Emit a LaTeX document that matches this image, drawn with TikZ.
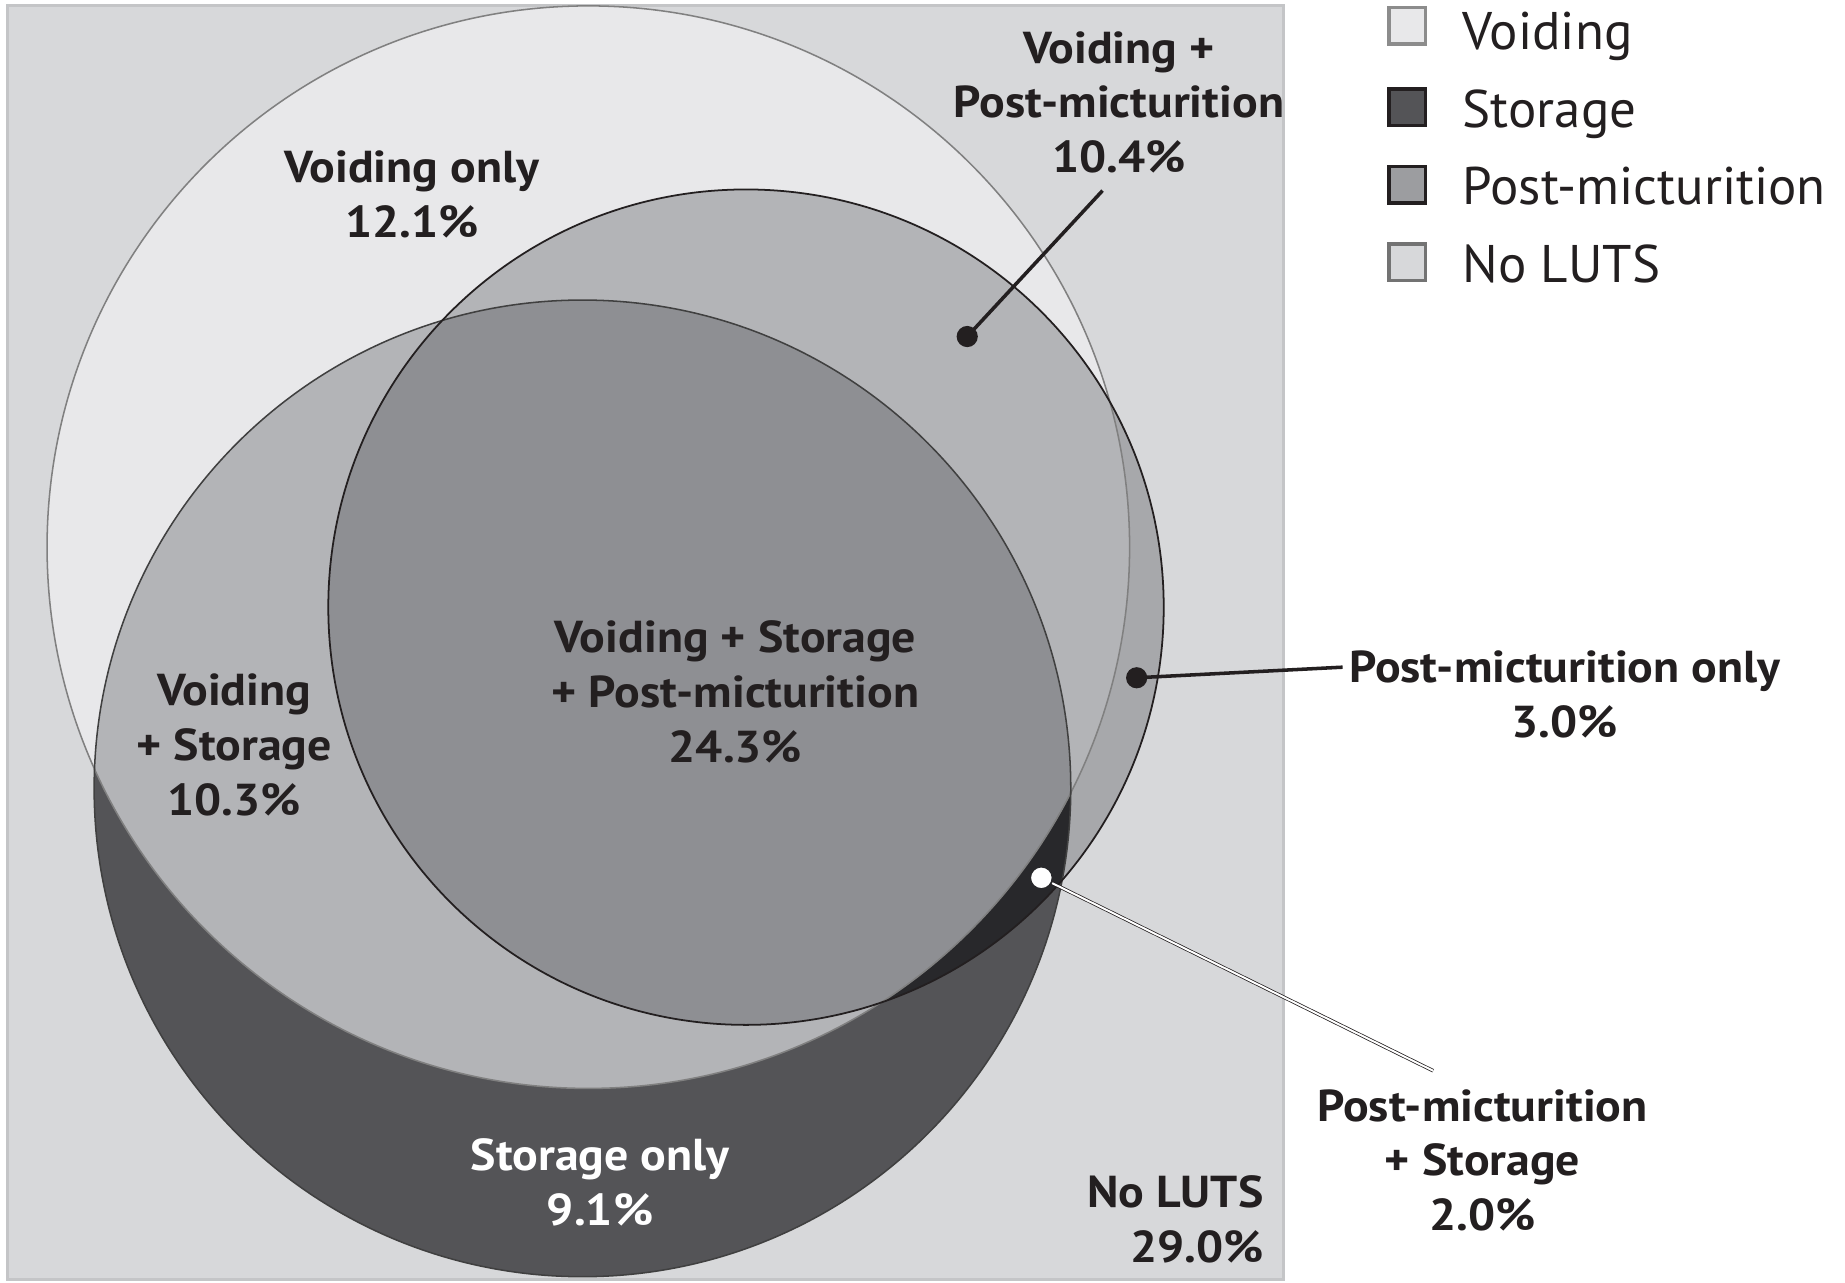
\documentclass[tikz,border=0pt]{standalone}
\usepackage{fontspec}
\setmainfont{PT Sans}[BoldFeatures={FakeStretch=1.07}]
\definecolor{bgfill}{HTML}{D7D8DA}
\definecolor{bgedge}{HTML}{C4C5C7}
\definecolor{voidfill}{HTML}{E8E8EA}
\definecolor{storfill}{HTML}{545457}
\definecolor{postfill}{HTML}{A7A8AB}
\definecolor{vsfill}{HTML}{B3B4B7}
\definecolor{vspfill}{HTML}{8E8F93}
\definecolor{spfill}{HTML}{28282B}
\definecolor{legpost}{HTML}{9C9DA0}
\definecolor{ink}{HTML}{231F20}
\begin{document}
\begin{tikzpicture}[x=1pt,y=-1pt,
  lbl/.style={font=\bfseries\fontsize{38}{46.5}\selectfont, align=center, text=ink, inner sep=0pt},
  wlbl/.style={lbl, text=white},
  legtext/.style={font=\fontsize{45}{50}\selectfont, text=ink, inner sep=0pt, anchor=base west},
  legbox/.style={minimum size=31pt, inner sep=0pt, line width=3pt},
  blackdot/.style={circle, fill=ink, minimum size=18pt, inner sep=0pt},
  whitedot/.style={circle, fill=white, draw=spfill, line width=1.5pt, minimum size=19pt, inner sep=0pt},
  leader/.style={draw=ink, line width=3pt},
  vedge/.style={draw=black!50, line width=1.3pt},
  sedge/.style={draw=black!75, line width=1.3pt},
  pedge/.style={draw=ink, line width=1.5pt}]
\useasboundingbox (0,0) rectangle (1568,1090);
\fill[white] (0,0) rectangle (1568,1090);

% frame of the whole population (No LUTS)
\draw[bgedge, line width=2.5pt, fill=bgfill] (6,5) rectangle (1091,1087);

% the three sets
\newcommand\Vset{(500,465) circle[radius=460pt]}
\newcommand\Sset{(495,670) circle[radius=415pt]}
\newcommand\Pset{(634,516) circle[radius=355pt]}

\fill[voidfill] \Vset;
\fill[storfill] \Sset;
\fill[postfill] \Pset;
\begin{scope}
  \clip \Sset;
  \fill[spfill] \Pset;
\end{scope}
\begin{scope}
  \clip \Vset;
  \fill[vsfill] \Sset;
  \fill[vsfill] \Pset;
\end{scope}
\begin{scope}
  \clip \Vset;
  \clip \Sset;
  \fill[vspfill] \Pset;
\end{scope}
\path[vedge] \Vset;
\path[sedge] \Sset;
\path[pedge] \Pset;

% region labels
\node[lbl] (vonly) at (350,165) {Voiding only\\12.1\%};
\node[lbl] (vp) at (951,87) {Voiding +\\Post-micturition\\10.4\%};
\node[lbl] (vsp) at (625,588) {Voiding + Storage\\+ Post-micturition\\24.3\%};
\node[lbl] (vs) at (199,633) {Voiding\\+ Storage\\10.3\%};
\node[lbl] (ponly) at (1330,590) {Post-micturition only\\3.0\%};
\node[lbl] (ps) at (1260,986) {Post-micturition\\+ Storage\\2.0\%};
\node[wlbl] (sonly) at (510,1005) {Storage only\\9.1\%};
\node[lbl, align=right, anchor=east] (none) at (1074,1036) {No LUTS\\29.0\%};

% pointers to the small regions
\node[blackdot] (dvp) at (822,286) {};
\coordinate (evp) at (937,162);
\draw[leader] (dvp.center) -- (evp);

\node[blackdot] (dp) at (966,576) {};
\coordinate (ep) at (1141,567);
\draw[leader] (dp.center) -- (ep);

\coordinate (eps) at (1218,910);
\draw[ink, line width=3pt] (885,746) coordinate (dps0) -- (eps);
\draw[white, line width=1.7pt, yshift=0.5pt] (dps0) -- (eps);
\node[whitedot] (dps) at (dps0) {};

% legend
\node[legbox, draw=black!45, fill=voidfill] (kv) at (1196,22) {};
\node[legbox, draw=ink, fill=storfill] (ks) at (1196,91) {};
\node[legbox, draw=ink, fill=legpost] (kp) at (1196,157) {};
\node[legbox, draw=black!55, fill=bgfill] (kn) at (1196,223) {};
\node[legtext] (tv) at (1243,42) {Voiding};
\node[legtext] (ts) at (1243,108) {Storage};
\node[legtext] (tp) at (1243,174) {Post-micturition};
\node[legtext] (tn) at (1243,240) {No LUTS};
\end{tikzpicture}
\end{document}
